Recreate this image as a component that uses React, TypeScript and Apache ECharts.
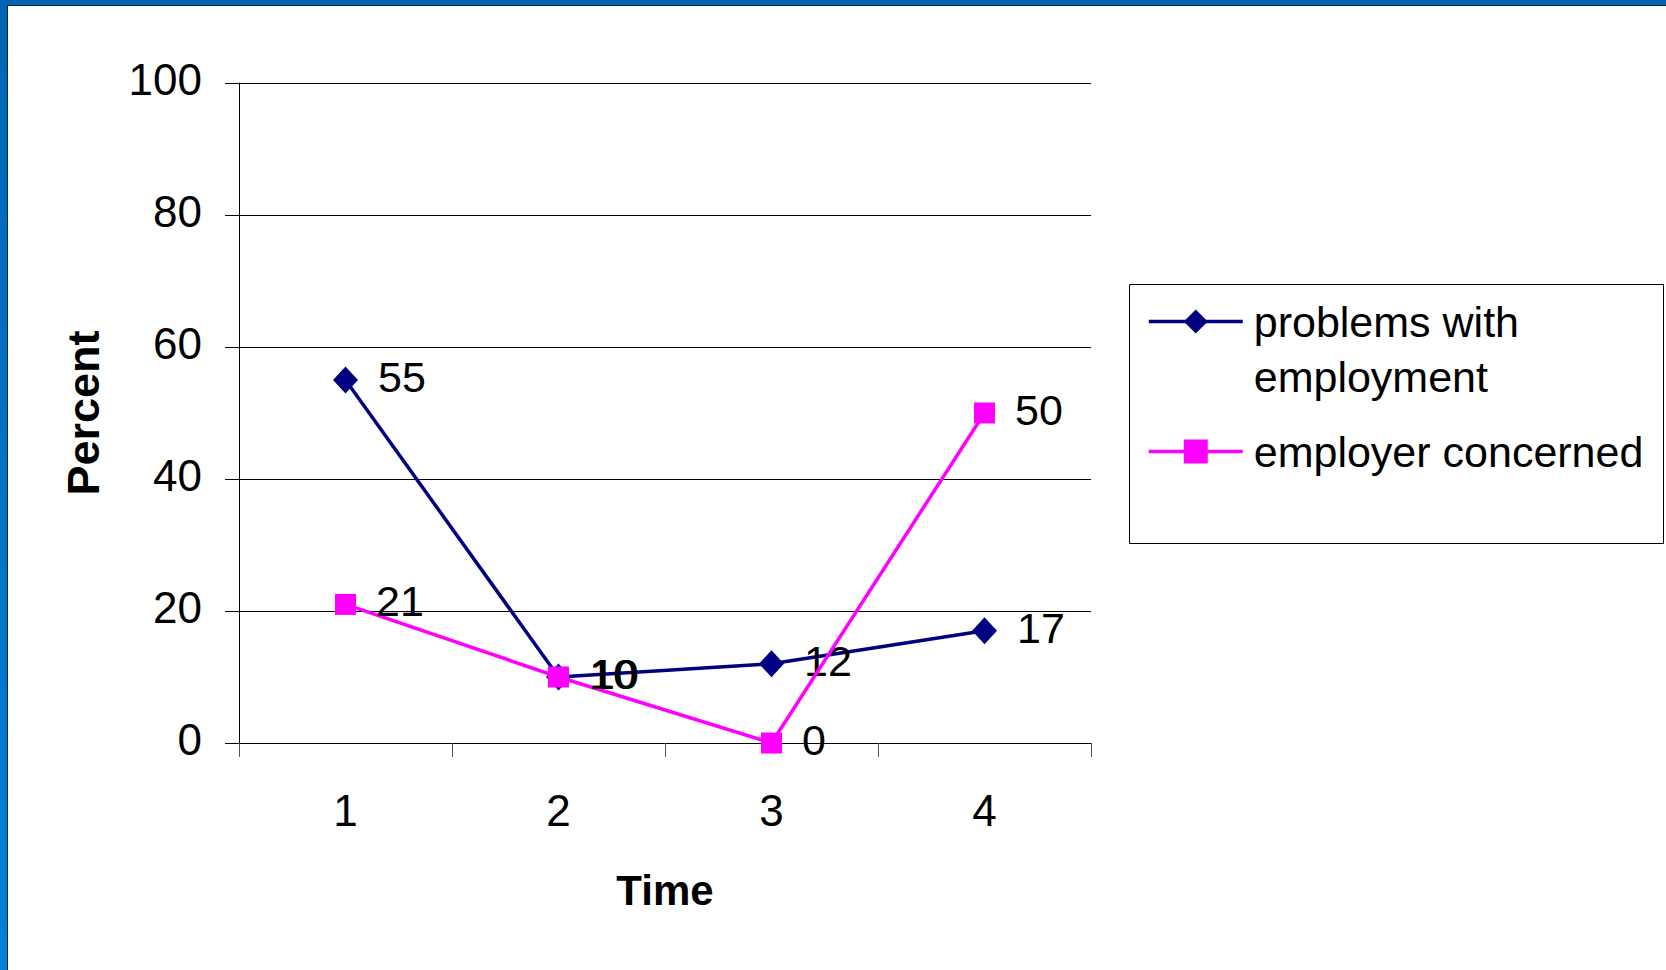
import React, { useEffect, useRef } from "react";
import * as echarts from "echarts";

// Survey results by time point
const timePoints = ["1", "2", "3", "4"];
const problemsWithEmployment = [55, 10, 12, 17];
const employerConcerned = [21, 10, 0, 50];
const seriesNames = ["problems with employment", "employer concerned"];
const yTicks = { min: 0, max: 100, interval: 20 };

const FONT = "'Liberation Sans', Arial, Helvetica, sans-serif";
const NAVY = "#000080";
const MAGENTA = "#FF00FF";
const LINE_WIDTH = 3.5;

export default function App() {
  const ref = useRef<HTMLDivElement>(null);

  useEffect(() => {
    if (!ref.current) return;
    const chart = echarts.init(ref.current, undefined, { renderer: "svg" });

    // value labels sit a touch above the marker centre
    const labelStyle = {
      show: true,
      position: "right" as const,
      distance: 20,
      formatter: "{v|{c}}",
      rich: {
        v: { fontSize: 43, fontFamily: FONT, color: "#000", padding: [0, 0, 6, 0] },
      },
    };

    const legendText = {
      fontSize: 43,
      lineHeight: 55,
      color: "#000",
      fontFamily: FONT,
      padding: [0, 0, 0, 6],
    };

    chart.setOption({
      animation: false,
      backgroundColor: "#ffffff",
      grid: { left: 239, top: 83, width: 852, height: 660, containLabel: false },
      xAxis: {
        type: "category",
        data: timePoints,
        boundaryGap: true,
        name: "Time",
        nameLocation: "middle",
        nameGap: 126,
        nameTextStyle: { fontSize: 42, fontWeight: "bold", color: "#000", fontFamily: FONT },
        axisLine: { show: true, lineStyle: { color: "#000", width: 1 } },
        axisTick: { show: true, length: 14, lineStyle: { color: "#555", width: 1 } },
        axisLabel: { margin: 45, fontSize: 44, color: "#000", fontFamily: FONT },
        splitLine: { show: false },
      },
      yAxis: {
        type: "value",
        min: yTicks.min,
        max: yTicks.max,
        interval: yTicks.interval,
        name: "Percent",
        nameLocation: "middle",
        nameGap: 133,
        nameTextStyle: { fontSize: 45, fontWeight: "bold", color: "#000", fontFamily: FONT },
        axisLine: { show: true, lineStyle: { color: "#000", width: 1 } },
        axisTick: { show: true, length: 14, lineStyle: { color: "#000", width: 1 } },
        axisLabel: {
          margin: 37,
          formatter: "{t|{value}}",
          rich: {
            t: { fontSize: 44, color: "#000", fontFamily: FONT, padding: [0, 0, 7, 0] },
          },
        },
        splitLine: { show: true, lineStyle: { color: "#000", width: 1 } },
      },
      legend: [
        {
          data: [seriesNames[0]],
          left: 1147,
          top: 239,
          padding: 0,
          orient: "vertical",
          itemWidth: 94,
          itemHeight: 30,
          lineStyle: { width: LINE_WIDTH },
          // leading blank line keeps the first line level with the icon
          formatter: () => "\nproblems with\nemployment",
          textStyle: legendText,
          selectedMode: false,
        },
        {
          data: [seriesNames[1]],
          left: 1147,
          top: 424,
          padding: 0,
          orient: "vertical",
          itemWidth: 94,
          itemHeight: 30,
          lineStyle: { width: LINE_WIDTH },
          textStyle: legendText,
          selectedMode: false,
        },
      ],
      graphic: [
        // slide frame: blue bands along the top and left edges
        {
          type: "rect",
          shape: { x: 0, y: 0, width: 1666, height: 5 },
          style: { fill: "#0066B3" },
          silent: true,
        },
        {
          type: "rect",
          shape: { x: 0, y: 5, width: 1666, height: 1 },
          style: { fill: "#1a2233" },
          silent: true,
        },
        {
          type: "rect",
          shape: { x: 0, y: 0, width: 7, height: 970 },
          style: {
            fill: new echarts.graphic.LinearGradient(0, 0, 0, 1, [
              { offset: 0, color: "#0066B3" },
              { offset: 1, color: "#0080D8" },
            ]),
          },
          silent: true,
        },
        {
          type: "rect",
          shape: { x: 7, y: 5, width: 1, height: 965 },
          style: { fill: "#1a2233" },
          silent: true,
        },
        // legend frame
        {
          type: "rect",
          shape: { x: 1129.5, y: 284.5, width: 534, height: 259 },
          style: { fill: "none", stroke: "#000", lineWidth: 1 },
          silent: true,
        },
      ],
      series: [
        {
          name: seriesNames[0],
          type: "line",
          data: problemsWithEmployment,
          symbol: "diamond",
          symbolSize: [25, 27],
          itemStyle: { color: NAVY },
          lineStyle: { color: NAVY, width: LINE_WIDTH },
          label: labelStyle,
          z: 2,
        },
        {
          name: seriesNames[1],
          type: "line",
          data: employerConcerned,
          symbol: "rect",
          symbolSize: 21,
          itemStyle: { color: MAGENTA },
          lineStyle: { color: MAGENTA, width: LINE_WIDTH },
          label: labelStyle,
          z: 3,
        },
      ],
    });

    return () => chart.dispose();
  }, []);

  return (
    <div
      ref={ref}
      style={{ position: "fixed", left: 0, top: 0, width: 1666, height: 970, background: "#fff" }}
    />
  );
}
